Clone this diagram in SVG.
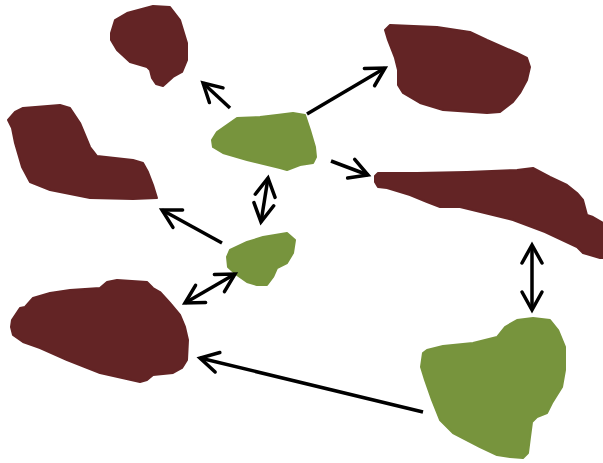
<svg xmlns="http://www.w3.org/2000/svg" width="603" height="463" viewBox="0 0 603 463">
<defs>
<style>
.brown{fill:#632425;stroke:#632425;stroke-width:2;stroke-linejoin:round}
.green{fill:#77943d;stroke:#77943d;stroke-width:2;stroke-linejoin:round}
.conn{stroke:#000;stroke-width:3.5;fill:none;marker-end:url(#head)}
.both{marker-start:url(#head)}
</style>
<marker id="head" markerUnits="userSpaceOnUse" orient="auto-start-reverse" refX="0" refY="0" markerWidth="30" markerHeight="30" viewBox="-25 -15 30 30" overflow="visible">
<path d="M-18,-10 L0,0 L-18,10" fill="none" stroke="#000" stroke-width="3.5" stroke-linecap="round" stroke-linejoin="miter"/>
</marker>
</defs>
<rect width="603" height="463" fill="#fff"/>
<g id="blobA"><polygon class="brown" points="111,33 115,20 127,13 153,6 170,7 180,20 187,43 187,60 182,72 173,77 163,86 156,84 152,78 150,70 147,67 130,62 117,50 111,40"/></g>
<g id="blobB"><polygon class="brown" points="8,120 15,112 23,108 60,105 70,108 80,123 90,147 97,156 133,160 143,163 148,172 153,185 157,198 133,199 90,198 50,190 30,182 22,167 15,143 12,128"/></g>
<g id="blobC"><polygon class="brown" points="385,30 390,25 437,27 470,32 487,40 517,53 527,58 530,67 527,80 520,93 513,102 500,112 487,113 443,110 420,103 403,93 398,85 398,70 395,58 388,40"/></g>
<g id="blobD"><polygon class="brown" points="375,176 378,173 417,173 467,172 517,170 533,168 550,177 567,185 577,193 583,200 587,215 593,217 603,223 603,258 600,258 583,253 577,247 545,232 513,220 460,207 440,207 427,202 410,195 387,188 378,187 375,182"/></g>
<g id="blobE"><polygon class="brown" points="12,320 20,308 25,307 33,298 50,293 70,290 100,288 107,282 117,280 147,282 153,288 160,292 170,303 180,315 185,327 188,340 187,360 182,368 173,373 153,375 147,380 140,382 100,373 67,360 40,348 23,342 13,335 11,327"/></g>
<g id="green1"><polygon class="green" points="212,140 217,132 227,125 237,118 260,117 277,115 293,113 305,115 310,130 315,147 316,157 313,163 300,165 287,170 280,168 247,160 223,153 213,147"/></g>
<g id="green2"><polygon class="green" points="227,257 230,250 247,242 263,237 287,233 295,240 293,253 287,263 277,268 273,277 267,285 257,285 247,282 237,275 228,267"/></g>
<g id="green3"><polygon class="green" points="423,353 427,350 443,346 473,343 497,337 505,327 517,320 533,318 550,320 558,330 565,347 565,370 562,387 557,395 552,403 547,413 537,417 532,422 530,437 528,453 523,458 510,457 497,455 480,447 453,433 440,420 432,400 425,380 421,367"/></g>
<g id="connectors">
<line class="conn" x1="230" y1="108" x2="203" y2="83"/>
<line class="conn" x1="307" y1="114" x2="385" y2="68"/>
<line class="conn" x1="331" y1="161" x2="368" y2="175"/>
<line class="conn both" x1="268" y1="178" x2="261" y2="222"/>
<line class="conn" x1="222" y1="243" x2="162" y2="210"/>
<line class="conn both" x1="185" y1="303" x2="235" y2="274"/>
<line class="conn both" x1="532" y1="245" x2="532" y2="310"/>
<line class="conn" x1="423" y1="412" x2="200" y2="358"/>
</g>
</svg>
